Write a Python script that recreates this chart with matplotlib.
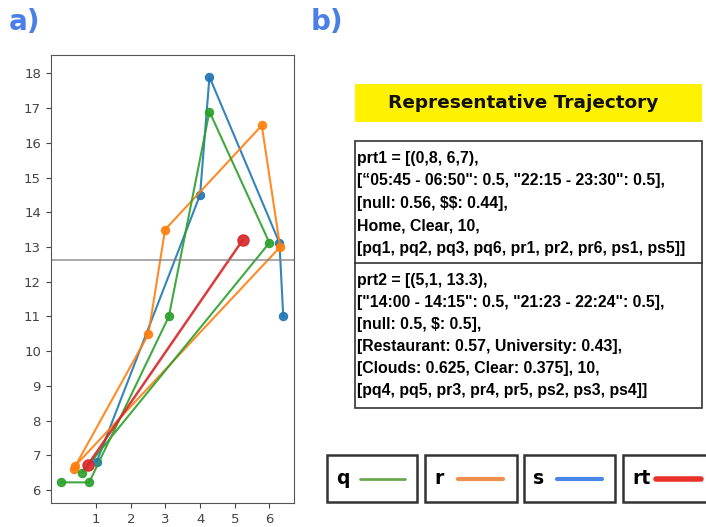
import matplotlib
matplotlib.use('Agg')
from matplotlib import pyplot as plt
from matplotlib.patches import Rectangle

# trajectories (x, y) read off panel a)
Q_X = [0.0, 0.8, 3.1, 4.27, 6.0, 0.6]
Q_Y = [6.22, 6.22, 11.0, 16.9, 13.12, 6.5]
R_X = [0.35, 2.51, 2.99, 5.78, 6.31, 0.4]
R_Y = [6.6, 10.49, 13.5, 16.5, 13.0, 6.7]
S_X = [1.02, 4.0, 4.27, 6.29, 6.4]
S_Y = [6.82, 14.5, 17.9, 13.12, 11.0]
RT_X = [0.76, 5.23]
RT_Y = [6.72, 13.2]
HLINE_Y = 12.63

XTICKS = [1, 2, 3, 4, 5, 6]
YTICKS = list(range(6, 19))

TITLE = 'Representative Trajectory'
PRT1 = ['prt1 = [(0,8, 6,7),',
        '[\u201c05:45 - 06:50": 0.5, "22:15 - 23:30": 0.5],',
        '[null: 0.56, $$: 0.44],',
        'Home, Clear, 10,',
        '[pq1, pq2, pq3, pq6, pr1, pr2, pr6, ps1, ps5]]']
PRT2 = ['prt2 = [(5,1, 13.3),',
        '["14:00 - 14:15": 0.5, "21:23 - 22:24": 0.5],',
        '[null: 0.5, $: 0.5],',
        '[Restaurant: 0.57, University: 0.43],',
        '[Clouds: 0.625, Clear: 0.375], 10,',
        '[pq4, pq5, pr3, pr4, pr5, ps2, ps3, ps4]]']
LEG_NAMES = ['q', 'r', 's', 'rt']
LEG_COLORS = ['#6aa84f', '#ee8f4c', '#4a86e8', '#e8322b']
LEG_LW = [2.0, 3.0, 3.0, 4.0]

W, H = 706, 527
fig = plt.figure(figsize=(W / 100, H / 100), dpi=100)

# ---- panel a) ----
ax = fig.add_axes([50.7 / W, 1 - 503 / H, 243.3 / W, 448 / H])
ax.plot(S_X, S_Y, '-o', color='C0', ms=5.8, lw=1.5, alpha=0.9)
ax.plot(R_X, R_Y, '-o', color='C1', ms=5.8, lw=1.5, alpha=0.9)
ax.plot(Q_X, Q_Y, '-o', color='C2', ms=5.8, lw=1.5, alpha=0.9)
ax.plot(RT_X, RT_Y, '-o', color='C3', ms=8, lw=1.8, alpha=0.9)
ax.axhline(HLINE_Y, color='gray', lw=1.2, alpha=0.8)
ax.set_xlim(-0.31, 6.71)
ax.set_ylim(5.625, 18.53)
ax.set_xticks(XTICKS)
ax.set_yticks(YTICKS)
ax.tick_params(labelsize=9.5, colors='#444444')
for sp in ax.spines.values():
    sp.set_color('#555555')

# ---- overlay in pixel coordinates ----
ov = fig.add_axes([0, 0, 1, 1])
ov.set_xlim(0, W)
ov.set_ylim(H, 0)
ov.axis('off')

label_kw = dict(color='#4a7fe6', fontsize=20, fontweight='bold', va='center')
ov.text(9, 22, 'a)', **label_kw)
ov.text(311, 22, 'b)', **label_kw)

ov.add_patch(Rectangle((355, 84), 347, 38, fc='#fff200', ec='none'))
ov.text(523, 103, TITLE, ha='center', va='center', fontsize=13.3,
        fontweight='bold', color='#111111')

ov.add_patch(Rectangle((355, 141), 347, 267, fc='white', ec='#333333', lw=1.2))
ov.plot([355, 702], [262.7, 262.7], color='#333333', lw=1.2)
for i, line in enumerate(PRT1):
    ov.text(357, 158.3 + i * 22.5, line, va='center', fontsize=11.4,
            fontweight='bold', family='Liberation Sans', parse_math=False)
for i, line in enumerate(PRT2):
    ov.text(357, 280 + i * 22, line, va='center', fontsize=11.4,
            fontweight='bold', family='Liberation Sans', parse_math=False)

box_x = [327, 425, 524, 623]
box_w = [90, 92, 91, 100]
for bx, bw, name, col, lw in zip(box_x, box_w, LEG_NAMES, LEG_COLORS, LEG_LW):
    ov.add_patch(Rectangle((bx, 455), bw, 47, fc='white', ec='#333333',
                           lw=1.8, clip_on=False))
    ov.text(bx + 9, 479, name, va='center', fontsize=13.5, fontweight='bold')
    ov.plot([bx + 33, bx + 78], [479, 479], color=col, lw=lw,
            solid_capstyle='round')

fig.savefig('out.png', dpi=100)
